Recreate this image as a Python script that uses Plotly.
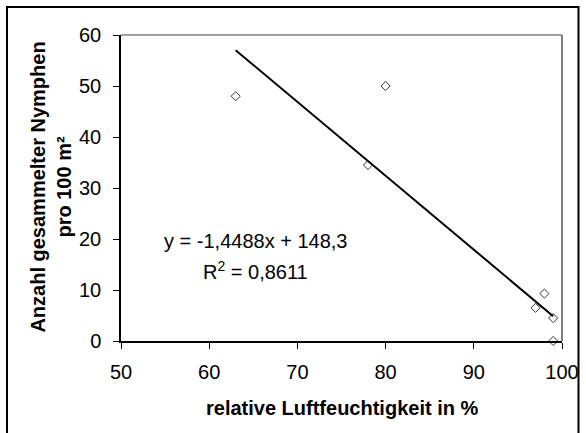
import plotly.graph_objects as go

# Relative humidity (%) and nymph counts per 100 m²
humidity = [63, 78, 80, 97, 98, 99, 99]
nymphs = [48, 34.5, 50, 6.5, 9.3, 4.5, 0]

# Linear trend as stated in the equation label
slope = -1.4488
intercept = 148.3
r_squared = 0.8611
trend_x = [63, 99]
trend_y = [slope * x + intercept for x in trend_x]

x_ticks = [50, 60, 70, 80, 90, 100]
y_ticks = [0, 10, 20, 30, 40, 50, 60]

FONT = "Liberation Sans, Arial, sans-serif"

fig = go.Figure()

fig.add_trace(go.Scatter(
    x=humidity, y=nymphs, mode="markers",
    marker=dict(symbol="diamond-open", size=7, color="#333333",
                line=dict(width=1, color="#333333")),
    showlegend=False, cliponaxis=False,
))

fig.add_trace(go.Scatter(
    x=trend_x, y=trend_y, mode="lines",
    line=dict(color="black", width=2),
    showlegend=False,
))

fmt = lambda v, d: f"{v:.{d}f}".replace(".", ",")
eq_text = f"y = {fmt(slope, 4)}x + {fmt(intercept, 1)}"
r2_text = f"R<sup>2</sup> = {fmt(r_squared, 4)}"

annotations = [
    dict(x=65.3, y=19.6, xref="x", yref="y", text=eq_text, showarrow=False,
         xanchor="center", yanchor="middle", font=dict(size=20, color="black")),
    dict(x=65.2, y=13.75, xref="x", yref="y", text=r2_text, showarrow=False,
         xanchor="center", yanchor="middle", font=dict(size=20, color="black")),
    dict(x=0.5, y=-0.218, xref="paper", yref="paper",
         text="<b>relative Luftfeuchtigkeit in %</b>", showarrow=False,
         xanchor="center", yanchor="middle", font=dict(size=20, color="black")),
    dict(x=-0.1576, y=0.503, xref="paper", yref="paper",
         text="<b>Anzahl gesammelter Nymphen<br>pro 100 m²</b>", showarrow=False,
         textangle=-90, xanchor="center", yanchor="middle",
         font=dict(size=20, color="black")),
]

shapes = [
    # plot-area frame (top and right in grey)
    dict(type="line", xref="paper", yref="paper", x0=0, x1=1, y0=1, y1=1,
         line=dict(color="#808080", width=1.5)),
    dict(type="line", xref="paper", yref="paper", x0=1, x1=1, y0=0, y1=1,
         line=dict(color="#555555", width=1.5)),
    # outer chart frame
    dict(type="rect", xref="paper", yref="paper",
         x0=-0.2585, x1=1.0374, y0=-0.3235, y1=1.0915,
         line=dict(color="black", width=2), layer="below"),
]

fig.update_layout(
    width=586, height=433,
    margin=dict(l=121, r=24, t=35, b=92, autoexpand=False),
    paper_bgcolor="white", plot_bgcolor="white",
    font=dict(family=FONT, size=20, color="black"),
    annotations=annotations, shapes=shapes,
    xaxis=dict(range=[50, 100], tickvals=x_ticks, ticks="outside", ticklen=6,
               tickcolor="black", showgrid=False, zeroline=False,
               showline=True, linecolor="black", linewidth=1.5,
               ticklabelstandoff=6, tickfont=dict(size=20)),
    yaxis=dict(range=[0, 60], tickvals=y_ticks, ticks="outside", ticklen=6,
               tickcolor="black", showgrid=False, zeroline=False,
               showline=True, linecolor="black", linewidth=1.5,
               ticklabelstandoff=8, tickfont=dict(size=20)),
)

fig.write_html("out.html")
